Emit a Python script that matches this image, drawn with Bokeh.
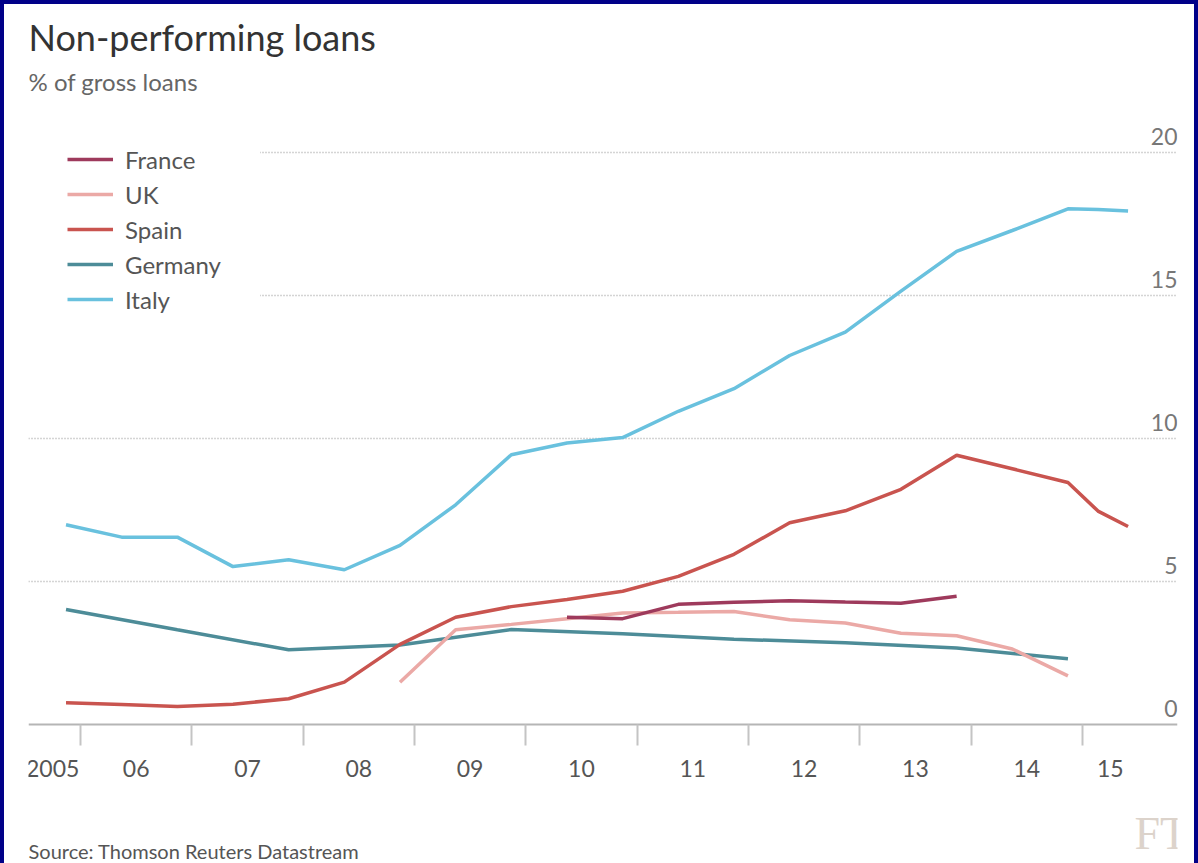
from bokeh.plotting import figure
from bokeh.models import (FixedTicker, Range1d, Legend, LegendItem, Title, Label,
                          ColumnDataSource)
from bokeh.core.properties import value
from bokeh.embed import file_html
from bokeh.resources import INLINE

TITLE = "Non-performing loans"
SUBTITLE = "% of gross loans"
SOURCE = "Source: Thomson Reuters Datastream"
LOGO = "FT"

# Observation dates (decimal years) and values, % of gross loans
italy_x = [2005.87, 2006.37, 2006.87, 2007.37, 2007.87, 2008.37, 2008.87, 2009.37, 2009.87,
           2010.37, 2010.87, 2011.37, 2011.87, 2012.37, 2012.87, 2013.37, 2013.87, 2014.37,
           2014.87, 2015.14, 2015.41]
italy = [6.98, 6.55, 6.55, 5.52, 5.76, 5.41, 6.26, 7.68, 9.43, 9.84, 10.03, 10.95, 11.74,
         12.90, 13.72, 15.15, 16.54, 17.27, 18.03, 18.00, 17.95]

spain_x = [2005.87, 2006.37, 2006.87, 2007.37, 2007.87, 2008.37, 2008.87, 2009.37, 2009.87,
           2010.37, 2010.87, 2011.37, 2011.87, 2012.37, 2012.87, 2013.37, 2013.87, 2014.37,
           2014.87, 2015.14, 2015.41]
spain = [0.76, 0.70, 0.63, 0.71, 0.90, 1.48, 2.80, 3.75, 4.12, 4.37, 4.66, 5.18, 5.95, 7.05,
         7.47, 8.22, 9.41, 8.94, 8.46, 7.46, 6.92]

germany_x = [2005.87, 2006.87, 2007.87, 2008.87, 2009.87, 2010.87, 2011.87, 2012.87,
             2013.87, 2014.87]
germany = [4.02, 3.31, 2.61, 2.78, 3.32, 3.17, 2.98, 2.86, 2.67, 2.30]

uk_x = [2008.87, 2009.37, 2009.87, 2010.37, 2010.87, 2011.37, 2011.87, 2012.37, 2012.87,
        2013.37, 2013.87, 2014.37, 2014.87]
uk = [1.48, 3.31, 3.50, 3.70, 3.90, 3.92, 3.95, 3.66, 3.55, 3.19, 3.10, 2.64, 1.70]

france_x = [2010.37, 2010.87, 2011.37, 2011.87, 2012.37, 2012.87, 2013.37, 2013.87]
france = [3.75, 3.70, 4.20, 4.27, 4.33, 4.28, 4.24, 4.48]

# Axis ticks and labels
year_bounds = [2006, 2007, 2008, 2009, 2010, 2011, 2012, 2013, 2014, 2015]
label_pos = [2005.75, 2006.5, 2007.5, 2008.5, 2009.5, 2010.5, 2011.5, 2012.5, 2013.5,
             2014.5, 2015.25]
label_text = ["2005", "06", "07", "08", "09", "10", "11", "12", "13", "14", "15"]
y_ticks = [0, 5, 10, 15, 20]
y_labels = ["0", "5", "10", "15", "20"]

COLORS = {"France": "#9e3a5c", "UK": "#eba9a6", "Spain": "#c9544f",
          "Germany": "#4d8c98", "Italy": "#69c1de"}

FONT = "Lato"
X_START, X_END = 2005.533, 2015.854
Y_START, Y_END = -4.86, 21.64
LW = 3.5

p = figure(width=1198, height=863, output_backend="svg", toolbar_location=None,
           x_range=Range1d(X_START, X_END), y_range=Range1d(Y_START, Y_END),
           y_axis_location=None,
           min_border_left=24, min_border_right=25, min_border_top=101,
           min_border_bottom=4)
p.styles = {"border-top": "4px solid #000088", "border-left": "4px solid #000088",
            "border-right": "4px solid #000088", "box-sizing": "border-box"}
p.background_fill_color = "white"
p.border_fill_color = "white"
p.outline_line_color = None

# grid
p.xgrid.visible = False
p.ygrid.ticker = FixedTicker(ticks=[t for t in y_ticks if t > 0])
p.ygrid.grid_line_color = "#aaaaaa"
p.ygrid.grid_line_dash = "1 2"
p.ygrid.grid_line_width = 1.5

# x axis, pinned at zero
xa = p.xaxis[0]
xa.fixed_location = 0
xa.ticker = FixedTicker(ticks=label_pos, minor_ticks=year_bounds)
xa.major_label_overrides = {pos: txt for pos, txt in zip(label_pos, label_text)}
xa.axis_line_color = "#b5b5b5"
xa.axis_line_width = 2
xa.major_tick_out = 0
xa.major_tick_in = 0
xa.minor_tick_out = 21
xa.minor_tick_in = 0
xa.minor_tick_line_color = "#c4c4c4"
xa.minor_tick_line_width = 2
xa.major_label_standoff = 15
xa.major_label_text_font = FONT
xa.major_label_text_font_size = "23px"
xa.major_label_text_color = "#555555"

# lines
r_it = p.line(italy_x, italy, line_color=COLORS["Italy"], line_width=LW)
r_de = p.line(germany_x, germany, line_color=COLORS["Germany"], line_width=LW)
r_es = p.line(spain_x, spain, line_color=COLORS["Spain"], line_width=LW)
r_uk = p.line(uk_x, uk, line_color=COLORS["UK"], line_width=LW)
r_fr = p.line(france_x, france, line_color=COLORS["France"], line_width=LW)

# y labels sitting on the gridlines at the right edge
ysrc = ColumnDataSource(dict(x=[X_END] * len(y_ticks), y=y_ticks, t=y_labels))
p.text(x="x", y="y", text="t", source=ysrc, text_align="right",
       text_baseline="bottom", y_offset=-7, x_offset=0,
       text_font=value(FONT), text_font_size="23px", text_color="#777777")

legend = Legend(items=[LegendItem(label="France", renderers=[r_fr]),
                       LegendItem(label="UK", renderers=[r_uk]),
                       LegendItem(label="Spain", renderers=[r_es]),
                       LegendItem(label="Germany", renderers=[r_de]),
                       LegendItem(label="Italy", renderers=[r_it])],
                location="top_left", margin=0, padding=39, spacing=5,
                glyph_width=46, glyph_height=30, label_height=30, label_width=94,
                label_standoff=12, label_text_font=FONT, label_text_font_size="24px",
                label_text_color="#555555", background_fill_color="white",
                background_fill_alpha=1, border_line_alpha=0)
p.add_layout(legend)

p.add_layout(Title(text=SUBTITLE, text_font=FONT, text_font_size="24px",
                   text_font_style="normal", text_color="#666666", align="left",
                   vertical_align="top", standoff=15), "above")
p.add_layout(Title(text=TITLE, text_font=FONT, text_font_size="36px",
                   text_font_style="normal", text_color="#333333", align="left",
                   vertical_align="top", standoff=-3), "above")

p.add_layout(Label(x=0, y=13, x_units="screen", y_units="screen", text=SOURCE,
                   text_font=FONT, text_font_size="20px", text_color="#555555",
                   text_baseline="middle"))
p.add_layout(Label(x=1106, y=30, x_units="screen", y_units="screen", text=LOGO,
                   text_font="Liberation Serif", text_font_size="46px",
                   text_color="#dcd3cb", text_baseline="middle"))

open("out.html", "w").write(file_html(p, INLINE))
